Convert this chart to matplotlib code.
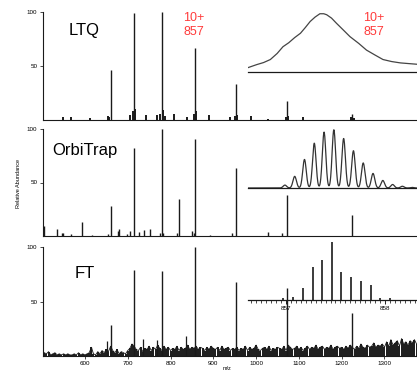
import matplotlib
matplotlib.use("Agg")
import matplotlib.pyplot as plt
import numpy as np

plt.rcParams["font.family"] = ["Liberation Sans", "DejaVu Sans"]

W, H = 417, 372
XLIM = (502, 1376)
INK = "#1a1a1a"
RED = "#ff3b3b"

# ── Data ─────────────────────────────────────────────────────────────────
# Ubiquitin charge-state envelope: main peaks per instrument (m/z, % rel. abundance)
charge_mz = [660, 715, 780, 857.6, 953, 1072, 1225]
ltq_main = [46, 99, 100, 67, 33, 18, 6]
orbi_main = [28, 82, 100, 91, 64, 38, 20]
ft_main = [28, 79, 78, 100, 68, 62, 39]

# minor peaks / satellites
ltq_minor_mz = [548, 567, 612, 654, 657, 705, 712, 718, 743, 769, 776, 783, 786,
                808, 838, 854, 860, 890, 939, 950, 956, 988, 1028, 1069, 1075,
                1110, 1222, 1228]
ltq_minor_h = [3, 3, 2, 4, 3, 5, 8, 10, 5, 5, 6, 9, 4,
               6, 3, 6, 8, 5, 3, 4, 5, 4, 1, 3, 4,
               3, 3, 2]
orbi_minor_mz = [504, 534, 546, 549, 567, 592, 616, 654, 677, 680, 698, 706, 726,
                 738, 752, 776, 783, 815, 820, 850, 854, 892, 944, 1028, 1060]
orbi_minor_h = [9, 7, 3, 3, 2, 13, 1, 2, 5, 7, 2, 5, 4,
                6, 7, 3, 3, 3, 35, 5, 3, 1, 3, 4, 3]
ft_minor_mz = [614, 652, 736, 768, 836]
ft_minor_h = [8, 14, 16, 15, 18]

# FT noise floor, sampled every 5 m/z from 505 to 1375
ft_noise_mz = np.arange(505, 1380, 5)
ft_noise_h = [3, 2, 4, 1, 2, 3, 1, 2, 1, 2,
              1, 2, 1, 1, 2, 1, 3, 1, 2, 1,
              2, 3, 8, 2, 1, 4, 2, 5, 3, 6,
              4, 9, 5, 3, 6, 2, 4, 3, 2, 5,
              7, 11, 9, 6, 5, 8, 4, 7, 6, 9,
              5, 8, 6, 10, 7, 5, 9, 6, 8, 5,
              7, 6, 9, 5, 8, 6, 7, 10, 6, 8,
              7, 9, 6, 8, 7, 5, 8, 6, 9, 7,
              6, 8, 5, 9, 6, 7, 8, 5, 7, 6,
              8, 5, 7, 6, 9, 5, 8, 6, 7, 10,
              6, 5, 7, 8, 6, 9, 5, 7, 6, 8,
              7, 6, 9, 5, 10, 8, 6, 7, 9, 6,
              8, 5, 7, 9, 6, 8, 7, 10, 6, 8,
              9, 6, 8, 7, 10, 6, 8, 9, 7, 8,
              6, 9, 7, 10, 8, 6, 9, 7, 11, 8,
              7, 10, 8, 9, 12, 8, 10, 9, 11, 8,
              13, 9, 15, 10, 12, 14, 9, 16, 11, 13,
              10, 14, 12, 15, 11]

# 10+ zoom insets
ltq_env_mz = [856.55, 856.64, 856.71, 856.78, 856.85, 856.91, 856.97, 857.03,
              857.09, 857.14, 857.19, 857.24, 857.29, 857.33, 857.36, 857.41,
              857.46, 857.53, 857.60, 857.69, 857.77, 857.86, 857.94, 858.03,
              858.12, 858.20, 858.29]
ltq_env_h = [0.075, 0.127, 0.162, 0.214, 0.318, 0.434, 0.503, 0.59,
             0.665, 0.763, 0.867, 0.942, 1.0, 1.0, 0.983, 0.925,
             0.838, 0.723, 0.607, 0.491, 0.376, 0.289, 0.214, 0.179,
             0.156, 0.145, 0.133]
orbi_iso_mz = [856.93 + 0.1008 * i for i in range(14)]
orbi_iso_h = [0.05, 0.20, 0.49, 0.77, 0.96, 1.0, 0.85, 0.64, 0.43, 0.25, 0.13, 0.06, 0.03, 0.01]
ft_iso_mz = [856.97, 857.07, 857.17, 857.27, 857.36, 857.46,
             857.56, 857.66, 857.76, 857.86, 857.95, 858.05]
ft_iso_h = [0.03, 0.06, 0.21, 0.57, 0.69, 1.0, 0.48, 0.39, 0.32, 0.26, 0.03, 0.03]


def px_rect(left, top, right, bottom):
    return [left / W, 1 - bottom / H, (right - left) / W, (bottom - top) / H]


def spectrum_axes(fig, rect):
    ax = fig.add_axes(rect)
    ax.set_xlim(*XLIM)
    ax.set_ylim(0, 100)
    for s in ("top", "right"):
        ax.spines[s].set_visible(False)
    for s in ("left", "bottom"):
        ax.spines[s].set_color(INK)
        ax.spines[s].set_linewidth(0.8)
    ax.set_yticks([50, 100])
    ax.tick_params(axis="y", labelsize=4.5, length=2.5, width=0.5, pad=1.5)
    ax.tick_params(axis="x", bottom=False, labelbottom=False)
    ax.patch.set_alpha(0)
    return ax


def inset_axes(fig, rect, xlim):
    ax = fig.add_axes(rect)
    ax.set_xlim(*xlim)
    ax.set_ylim(0, 1.03)
    for s in ("top", "right", "left"):
        ax.spines[s].set_visible(False)
    ax.spines["bottom"].set_color(INK)
    ax.spines["bottom"].set_linewidth(0.9)
    ax.set_yticks([])
    ax.tick_params(axis="x", bottom=False, labelbottom=False)
    ax.patch.set_alpha(0)
    return ax


fig = plt.figure(figsize=(W / 100, H / 100), dpi=100)

# ── LTQ ──────────────────────────────────────────────────────────────────
ax1 = spectrum_axes(fig, px_rect(43, 12, 417, 120))
ax1.vlines(ltq_minor_mz, 0, ltq_minor_h, color=INK, lw=1.4)
ax1.vlines(charge_mz, 0, ltq_main, color=INK, lw=1.0)
fig.text(69 / W, 1 - 31 / H, "LTQ", fontsize=12, va="center", ha="left")
fig.text(183 / W, 1 - 12 / H, "10+\n857", fontsize=9, color=RED, va="top",
         ha="left", linespacing=1.2)

ins1 = inset_axes(fig, px_rect(248, 12, 417, 72), (856.55, 858.29))
ins1.plot(ltq_env_mz, ltq_env_h, color="#444444", lw=0.9)
fig.text(363 / W, 1 - 12 / H, "10+\n857", fontsize=9, color=RED, va="top",
         ha="left", linespacing=1.2)

# ── OrbiTrap ─────────────────────────────────────────────────────────────
ax2 = spectrum_axes(fig, px_rect(43, 129, 417, 236))
ax2.vlines(orbi_minor_mz, 0, orbi_minor_h, color=INK, lw=1.0)
ax2.vlines(charge_mz, 0, orbi_main, color=INK, lw=1.0)
fig.text(52 / W, 1 - 151 / H, "OrbiTrap", fontsize=12, va="center", ha="left")
fig.text(19 / W, 1 - 183 / H, "Relative Abundance", fontsize=4, rotation=90,
         va="center", ha="center")

ins2 = inset_axes(fig, px_rect(248, 128, 417, 188), (856.55, 858.29))
grid = np.linspace(856.55, 858.29, 800)
profile = np.zeros_like(grid)
for c, h in zip(orbi_iso_mz, orbi_iso_h):
    profile += h * np.exp(-0.5 * ((grid - c) / 0.018) ** 2)
ins2.plot(grid, profile, color="#333333", lw=0.9)

# ── FT ───────────────────────────────────────────────────────────────────
ax3 = spectrum_axes(fig, px_rect(43, 247, 417, 356))
ax3.vlines(ft_noise_mz, 0, ft_noise_h, color=INK, lw=1.4)
ax3.plot(ft_noise_mz, ft_noise_h, color=INK, lw=0.6)
ax3.vlines(ft_minor_mz, 0, ft_minor_h, color=INK, lw=0.9)
ax3.vlines(charge_mz, 0, ft_main, color=INK, lw=1.0)
ax3.set_xticks([600, 700, 800, 900, 1000, 1100, 1200, 1300])
ax3.tick_params(axis="x", bottom=True, labelbottom=True, labelsize=4.5,
                length=2, width=0.5, pad=1.5)
fig.text(75 / W, 1 - 274 / H, "FT", fontsize=12, va="center", ha="left")
fig.text(227 / W, 1 - 369 / H, "m/z", fontsize=4, va="center", ha="center")

ins3 = inset_axes(fig, px_rect(248, 240, 417, 300), (856.62, 858.32))
ins3.vlines(ft_iso_mz, 0, ft_iso_h, color=INK, lw=1.2)
ins3.set_xticks([857, 858])
ins3.set_xticks(np.arange(856.65, 858.32, 0.05), minor=True)
ins3.tick_params(axis="x", which="major", bottom=True, labelbottom=True,
                 labelsize=4.5, length=3, width=0.6, pad=1)
ins3.tick_params(axis="x", which="minor", bottom=True, length=1.8, width=0.5)

fig.savefig("out.png", dpi=100)
